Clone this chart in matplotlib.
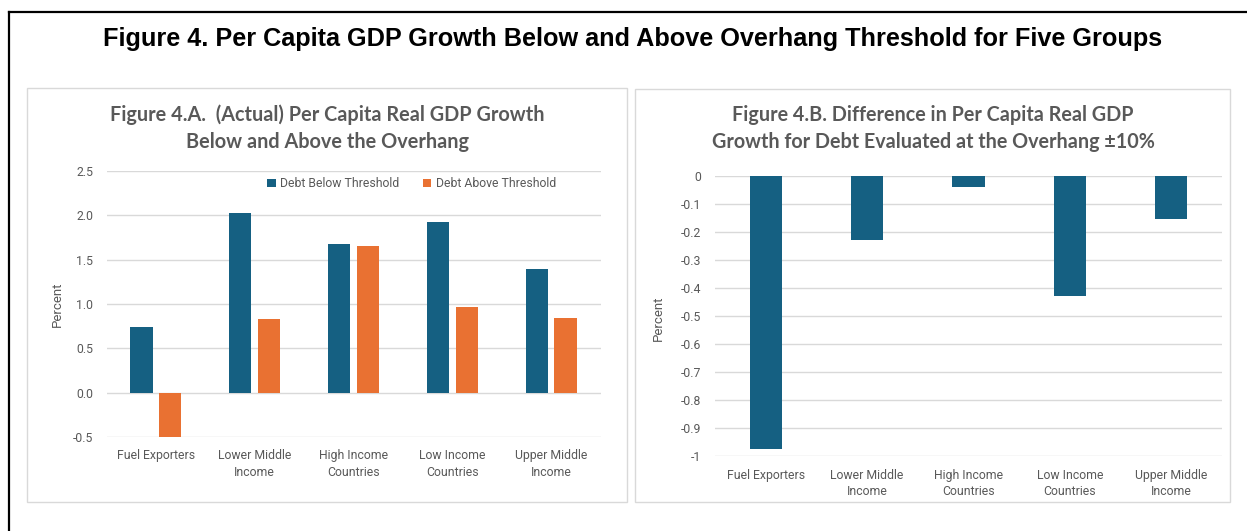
import matplotlib
matplotlib.use("Agg")
import matplotlib.pyplot as plt
from matplotlib.patches import Rectangle
from matplotlib.lines import Line2D
import numpy as np

# ---- data ----
categories = ["Fuel Exporters", "Lower Middle\nIncome", "High Income\nCountries",
              "Low Income\nCountries", "Upper Middle\nIncome"]
below_threshold = [0.74, 2.02, 1.67, 1.92, 1.39]
above_threshold = [-0.50, 0.83, 1.65, 0.97, 0.84]
difference = [-0.976, -0.228, -0.039, -0.431, -0.154]
ticks_a = [-0.5, 0.0, 0.5, 1.0, 1.5, 2.0, 2.5]
ticks_b = [0, -0.1, -0.2, -0.3, -0.4, -0.5, -0.6, -0.7, -0.8, -0.9, -1]

BLUE = "#156082"
ORANGE = "#E97132"
GRAY = "#595959"
GRID = "#D9D9D9"
TICKFONT = ["Roboto", "DejaVu Sans"]
TITLEFONT = ["Lato", "DejaVu Sans"]
TS = 8.8

W, H = 1247, 531
fig = plt.figure(figsize=(W / 100, H / 100), dpi=100)
fig.patch.set_facecolor("white")


def rect(x0, y0, x1, y1):
    return [x0 / W, (H - y1) / H, (x1 - x0) / W, (y1 - y0) / H]


def fx(x):
    return x / W


def fy(y):
    return (H - y) / H


# outer frame (left and top black lines)
fig.add_artist(Line2D([fx(8.5), fx(8.5)], [fy(531), fy(12)], color="black", lw=1.6,
                      transform=fig.transFigure))
fig.add_artist(Line2D([fx(8.5), fx(1247)], [fy(12), fy(12)], color="black", lw=1.6,
                      transform=fig.transFigure))

# panel boxes
for (x0, y0, x1, y1) in [(27, 88, 627, 502), (635, 89, 1230, 502)]:
    fig.add_artist(Rectangle((fx(x0), fy(y1)), fx(x1 - x0), (y1 - y0) / H,
                             transform=fig.transFigure, fill=False,
                             edgecolor="#D9D9D9", lw=1.0))

fig.text(fx(633), fy(39), "Figure 4. Per Capita GDP Growth Below and Above Overhang Threshold for Five Groups",
         ha="center", va="center", fontsize=18.2, fontweight="bold",
         family=["Liberation Sans", "DejaVu Sans"], color="black")


def style_axes(ax):
    for s in ax.spines.values():
        s.set_visible(False)
    ax.set_axisbelow(True)
    ax.yaxis.grid(True, color=GRID, lw=1.0)
    ax.tick_params(axis="both", length=0, colors=GRAY, labelsize=TS)
    for lab in ax.get_xticklabels() + ax.get_yticklabels():
        lab.set_family(TICKFONT)


# ---- Panel A ----
axA = fig.add_axes(rect(106.5, 170.7, 600.5, 437.3))
x = np.arange(len(categories))
bw = 0.225
off = bw / 2 + 0.033
axA.bar(x - off, below_threshold, bw, color=BLUE, label="Debt Below Threshold")
axA.bar(x + off, above_threshold, bw, color=ORANGE, label="Debt Above Threshold")
axA.set_xlim(-0.5, 4.5)
axA.set_ylim(-0.5, 2.5)
axA.set_yticks(ticks_a)
axA.set_yticklabels([f"{v:.1f}" for v in ticks_a])
axA.set_xticks(x)
axA.set_xticklabels(categories, linespacing=1.35)
style_axes(axA)
axA.tick_params(axis="y", pad=9.5)
axA.tick_params(axis="x", pad=8.5)
axA.set_ylabel("Percent", color=GRAY, fontsize=9.5, family=TICKFONT)
axA.yaxis.set_label_coords((64 - 106.5) / (600.5 - 106.5), 0.5)
leg = axA.legend(loc="upper left", bbox_to_anchor=((265 - 106.5) / 494, 0.985), ncol=2,
                 frameon=False, handlelength=0.7, handleheight=0.7, handletextpad=0.35,
                 columnspacing=1.9, borderaxespad=0, borderpad=0.2,
                 prop={"family": TICKFONT, "size": TS})
for t in leg.get_texts():
    t.set_color(GRAY)

fig.text(fx(327), fy(115), "Figure 4.A.  (Actual) Per Capita Real GDP Growth",
         ha="center", va="center", fontsize=14.3, fontweight="bold", family=TITLEFONT, color=GRAY)
fig.text(fx(327), fy(141.5), "Below and Above the Overhang",
         ha="center", va="center", fontsize=14.3, fontweight="bold", family=TITLEFONT, color=GRAY)

# ---- Panel B ----
axB = fig.add_axes(rect(715, 175.7, 1222, 455.7))
axB.bar(x, difference, 0.318, color=BLUE)
axB.set_xlim(-0.5, 4.5)
axB.set_ylim(-1, 0)
axB.set_yticks(ticks_b)
axB.set_yticklabels([f"{v:g}" for v in ticks_b])
axB.set_xticks(x)
axB.set_xticklabels(categories, linespacing=1.35)
style_axes(axB)
axB.tick_params(axis="y", pad=10)
axB.tick_params(axis="x", pad=9.5)
axB.set_ylabel("Percent", color=GRAY, fontsize=9.5, family=TICKFONT)
axB.yaxis.set_label_coords((665 - 715) / (1222 - 715), (455.7 - 318) / (455.7 - 175.7))

fig.text(fx(933), fy(115), "Figure 4.B. Difference in Per Capita Real GDP",
         ha="center", va="center", fontsize=14.2, fontweight="bold", family=TITLEFONT, color=GRAY)
fig.text(fx(933), fy(142), "Growth for Debt Evaluated at the Overhang \u00b110%",
         ha="center", va="center", fontsize=14.2, fontweight="bold", family=TITLEFONT, color=GRAY)

fig.savefig("out.png", dpi=100, facecolor="white")
